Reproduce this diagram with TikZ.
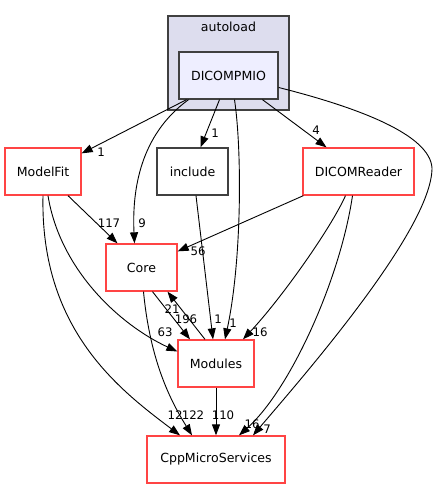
\documentclass[tikz,border=0pt]{standalone}
\usepackage{fontspec}
\setmainfont{DejaVu Sans}
\usetikzlibrary{arrows.meta,calc}
\definecolor{redb}{RGB}{255,68,68}
\definecolor{greyb}{RGB}{64,64,64}
\definecolor{clfill}{RGB}{221,221,238}
\definecolor{dirfill}{RGB}{238,238,255}
\tikzset{
  dirbox/.style={draw=redb,line width=1.3bp,fill=white,minimum height=47bp,inner sep=0pt,font=\fontsize{12.6}{15}\selectfont},
  plainbox/.style={dirbox,draw=greyb},
  lbl/.style={font=\fontsize{11.8}{13}\selectfont,inner sep=0pt},
  dep/.style={line width=0.9bp,-{Triangle[length=11bp,width=8bp]}},
}
\begin{document}
\begin{tikzpicture}[x=1bp,y=-1bp]
\useasboundingbox (0,0) rectangle (440,489);
% cluster
\node[draw=greyb,line width=1.3bp,fill=clfill,minimum width=121bp,minimum height=94bp,inner sep=0pt] (autoload) at (228.5,63) {};
\node[font=\fontsize{12.6}{15}\selectfont] (autoloadlbl) at (228.5,27) {autoload};
\node[plainbox,fill=dirfill,minimum width=99bp] (dp) at (228.5,75.5) {DICOMPMIO};
% nodes
\node[dirbox,minimum width=76bp] (mf) at (43,171.5) {ModelFit};
\node[plainbox,minimum width=71bp] (inc) at (192.5,171.5) {include};
\node[dirbox,minimum width=111bp] (dr) at (358.5,171.5) {DICOMReader};
\node[dirbox,minimum width=71bp] (core) at (141.5,267.5) {Core};
\node[dirbox,minimum width=76bp] (mod) at (216,363.5) {Modules};
\node[dirbox,minimum width=138bp] (cpp) at (216,459.5) {CppMicroServices};
% edges from DICOMPMIO
\draw[dep] ($(dp.south)+(-42,0)$) -- ($(mf.north east)+(0,6)$) node[lbl] at (101,152) {1};
\draw[dep] ($(dp.south)+(-40,0)$) .. controls (140,135) and (132,190) .. ($(core.north)+(-7,0)$) node[lbl] at (142,223) {9};
\draw[dep] ($(dp.south)+(-9,0)$) -- ($(inc.north)+(8,0)$) node[lbl] at (215,133) {1};
\draw[dep] ($(dp.south)+(6,0)$) .. controls (242,150) and (242,260) .. ($(mod.north)+(9,0)$) node[lbl] at (233,323) {1};
\draw[dep] ($(dp.south)+(34,0)$) -- ($(dr.north)+(-32,0)$) node[lbl] at (316,130) {4};
\draw[dep] ($(dp.east)+(0,12)$) .. controls (360,108) and (430,135) .. (432,168) .. controls (432,230) and (300,380) .. ($(cpp.north)+(37,0)$) node[lbl] at (267,429) {7};
% ModelFit
\draw[dep] ($(mf.south)+(25,0)$) -- ($(core.north)+(-24,0)$) node[lbl] at (109,223) {117};
\draw[dep] ($(mf.south)+(5,0)$) .. controls (60,270) and (120,325) .. ($(mod.west)+(0,-12)$) node[lbl] at (165,332) {63};
\draw[dep] ($(mf.south)+(0,0)$) .. controls (40,330) and (120,390) .. ($(cpp.north)+(-36,0)$) node[lbl] at (175,415) {12};
% include
\draw[dep] ($(inc.south)+(3.5,0)$) -- ($(mod.north)+(-3,0)$) node[lbl] at (218,319) {1};
% DICOMReader
\draw[dep] ($(dr.south west)+(1,0)$) -- ($(core.north east)+(0,8)$) node[lbl] at (198,251) {56};
\draw[dep] ($(dr.south)+(-13,0)$) .. controls (330,230) and (280,300) .. ($(mod.north)+(27,0)$) node[lbl] at (260,332) {16};
\draw[dep] ($(dr.south)+(-6,0)$) .. controls (340,280) and (290,390) .. ($(cpp.north)+(23,0)$) node[lbl] at (252,424) {16};
% Core / Modules
\draw[dep] ($(core.south)+(11,0)$) -- ($(mod.north)+(-26,0)$) node[lbl] at (172,309) {21};
\draw[dep] ($(mod.north)+(-11,0)$) -- ($(core.south)+(26,0)$) node[lbl] at (186,319) {196};
\draw[dep] ($(core.south)+(2,0)$) .. controls (150,360) and (170,400) .. ($(cpp.north)+(-24,0)$) node[lbl] at (193,415) {122};
\draw[dep] (mod.south) -- (cpp.north) node[lbl] at (223,415) {110};
\end{tikzpicture}
\end{document}
